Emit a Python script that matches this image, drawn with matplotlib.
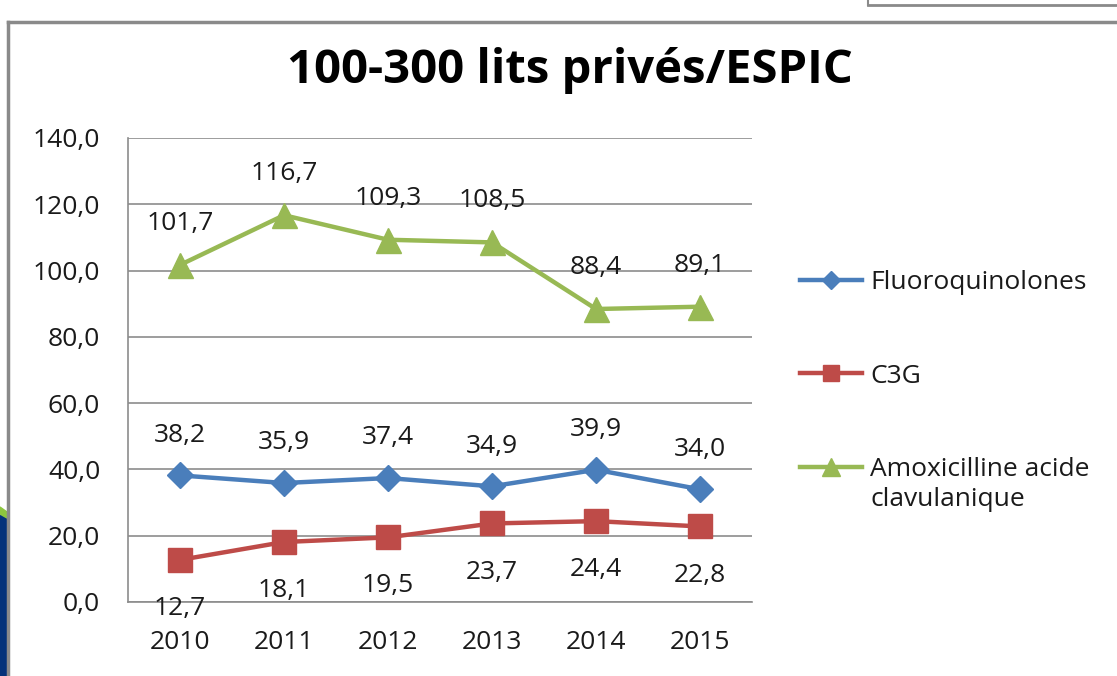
import matplotlib
matplotlib.use("Agg")
import matplotlib.pyplot as plt
from matplotlib.lines import Line2D
from matplotlib.patches import Rectangle, Polygon

years = ["2010", "2011", "2012", "2013", "2014", "2015"]
fluoro = [38.2, 35.9, 37.4, 34.9, 39.9, 34.0]
c3g = [12.7, 18.1, 19.5, 23.7, 24.4, 22.8]
amox = [101.7, 116.7, 109.3, 108.5, 88.4, 89.1]
series_names = ["Fluoroquinolones", "C3G", "Amoxicilline acide"]
title = "100-300 lits privés/ESPIC"
yticks = [0, 20, 40, 60, 80, 100, 120, 140]

plt.rcParams['font.family'] = ['Open Sans', 'DejaVu Sans']

W, H = 1117, 676
fig = plt.figure(figsize=(W / 100, H / 100), dpi=100)
fig.patch.set_facecolor("white")

ax = fig.add_axes([128 / W, 1 - 602 / H, (752 - 128) / W, (602 - 138) / H])

blue, red, green = "#4A7EBB", "#BE4B48", "#98B954"
x = list(range(len(years)))

ax.plot(x, fluoro, color=blue, lw=3.2, marker="D", ms=13, label=series_names[0], zorder=3)
ax.plot(x, c3g, color=red, lw=3.2, marker="s", ms=17, label=series_names[1], zorder=3)
ax.plot(x, amox, color=green, lw=3.2, marker="^", ms=18, label=series_names[2], zorder=3)

fs = 19
def fmt(v):
    return f"{v:.1f}".replace(".", ",")

for xi, v in zip(x, fluoro):
    ax.annotate(fmt(v), (xi, v), xytext=(0, 29), textcoords="offset points",
                ha="center", va="center", fontsize=fs, color="#1a1a1a")
for xi, v in zip(x, c3g):
    ax.annotate(fmt(v), (xi, v), xytext=(0, -35), textcoords="offset points",
                ha="center", va="center", fontsize=fs, color="#1a1a1a")
for xi, v in zip(x, amox):
    ax.annotate(fmt(v), (xi, v), xytext=(0, 30), textcoords="offset points",
                ha="center", va="center", fontsize=fs, color="#1a1a1a")

ax.set_xlim(-0.5, len(years) - 0.5)
ax.set_ylim(0, 140)
ax.set_yticks(yticks)
ax.set_yticklabels([fmt(v) for v in yticks], fontsize=fs, color="#1a1a1a")
ax.set_xticks(x)
ax.set_xticklabels(years, fontsize=fs, color="#1a1a1a")
ax.tick_params(axis="both", length=0)
ax.tick_params(axis="y", pad=20)
ax.tick_params(axis="x", pad=20)
ax.grid(axis="y", color="#8c8c8c", lw=1.2)
ax.set_axisbelow(True)
for s in ["top", "right"]:
    ax.spines[s].set_visible(False)
for s in ["left", "bottom"]:
    ax.spines[s].set_color("#8c8c8c")
    ax.spines[s].set_linewidth(1.2)

fig.text(570 / W, 1 - 70 / H, title, ha="center", va="center",
         fontsize=34, fontweight="bold", color="black")

leg = ax.legend(loc="upper left", bbox_to_anchor=(800 / W, 1 - 270 / H),
                bbox_transform=fig.transFigure, frameon=False, fontsize=fs,
                handlelength=2.35, handletextpad=0.3, labelspacing=2.6,
                borderpad=0, borderaxespad=0, markerscale=0.7)
fig.text(870 / W, 1 - 499 / H, "clavulanique", ha="left", va="center",
         fontsize=fs, color="#1a1a1a")
for t in leg.get_texts():
    t.set_color("#1a1a1a")

# frame decorations
fig.add_artist(Line2D([8 / W, 1], [1 - 22 / H, 1 - 22 / H], color="#8a8a8a", lw=2.5,
                      transform=fig.transFigure))
fig.add_artist(Line2D([8 / W, 8 / W], [0, 1 - 22 / H], color="#8a8a8a", lw=2.5,
                      transform=fig.transFigure))
fig.add_artist(Line2D([868 / W, 1], [1 - 5 / H, 1 - 5 / H], color="#8a8a8a", lw=2,
                      transform=fig.transFigure))
fig.add_artist(Line2D([868 / W, 868 / W], [1 - 5 / H, 1], color="#8a8a8a", lw=1.5,
                      transform=fig.transFigure))
fig.add_artist(Rectangle((0, 0), 7 / W, 1 - 515 / H, color="#04327A",
                         transform=fig.transFigure))
fig.add_artist(Polygon([(0, 1 - 507 / H), (7 / W, 1 - 512 / H), (7 / W, 1 - 518 / H), (0, 1 - 514 / H)],
                       closed=True, color="#8DC63F", transform=fig.transFigure))

fig.savefig("out.png", dpi=100)
